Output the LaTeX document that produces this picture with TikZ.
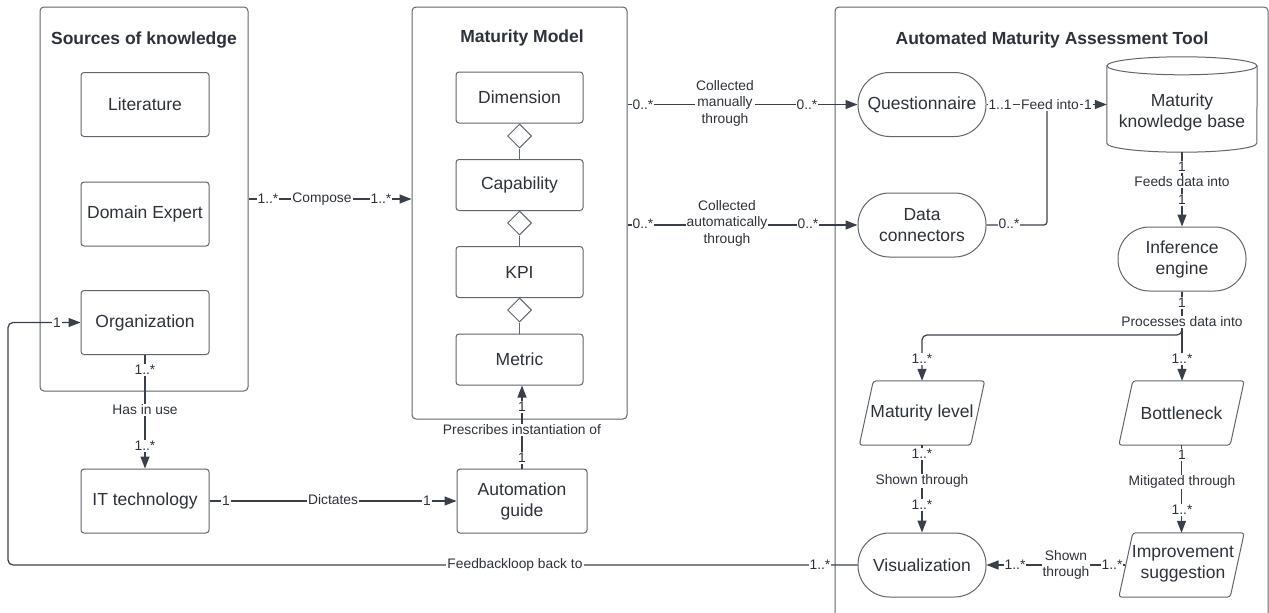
\documentclass[tikz,border=0pt]{standalone}
\usepackage{fontspec}
\setmainfont{Liberation Sans}
\usetikzlibrary{arrows.meta,shapes.geometric}
\definecolor{ln}{RGB}{58,64,74}
\definecolor{bx}{RGB}{96,102,112}
\definecolor{txt}{RGB}{45,50,58}
\newcommand\bigf{\fontsize{17.5}{21}\selectfont}
\newcommand\smallf{\fontsize{13.8}{16.5}\selectfont}
\tikzset{
  box/.style={draw=bx, line width=1pt, rounded corners=3pt, minimum width=128pt, minimum height=64pt, inner sep=0pt, text=txt, font=\bigf, align=center},
  stad/.style={box, rounded corners=31.5pt},
  para/.style={minimum width=125pt, minimum height=64pt, inner sep=0pt, text=txt, font=\bigf, align=center},
  pshape/.style={draw=bx, line width=1pt, rounded corners=3pt},
  ptext/.style={text=txt, font=\bigf, align=center, inner sep=0pt},
  cont/.style={draw=bx, line width=1pt, rounded corners=4pt, inner sep=0pt},
  ttl/.style={font=\bigf\bfseries, text=txt},
  conn/.style={draw=ln, line width=1.2pt, -{Triangle[length=12pt,width=9pt]}},
  plain/.style={draw=ln, line width=1.2pt},
  agg/.style={draw=bx, line width=1pt},
  dia/.style={diamond, draw=bx, line width=1pt, minimum width=24pt, minimum height=24pt, inner sep=0pt, fill=white},
  lbl/.style={font=\smallf, text=txt, fill=white, inner sep=1pt, align=center}
}
\begin{document}
\begin{tikzpicture}[x=1pt,y=-1pt]
\useasboundingbox (0,0) rectangle (1269,613);
\clip (0,0) rectangle (1269,613);
\fill[white] (0,0) rectangle (1269,613);

% containers
\node[cont, minimum width=208pt, minimum height=384pt] (src) at (144,199) {};
\node[ttl] (srct) at (144,40) {Sources of knowledge};
\node[cont, minimum width=215pt, minimum height=412pt] (mm) at (519.5,213) {};
\node[ttl] (mmt) at (522,38) {Maturity Model};
\node[cont, minimum width=433pt, minimum height=693pt] (tool) at (1051.5,353.5) {};
\node[ttl] (toolt) at (1052,40) {Automated Maturity Assessment Tool};

% sources
\node[box] (lit) at (145,104.5) {Literature};
\node[box] (dom) at (145,214) {Domain Expert};
\node[box] (org) at (145,322.5) {Organization};
\node[box] (itt) at (145,501) {IT technology};

% maturity model
\node[box, minimum width=127pt, minimum height=51pt] (dim) at (519.5,97.5) {Dimension};
\node[box, minimum width=127pt, minimum height=51pt] (cap) at (519.5,185) {Capability};
\node[box, minimum width=127pt, minimum height=51pt] (kpi) at (519.5,272) {KPI};
\node[box, minimum width=127pt, minimum height=51pt] (met) at (519.5,359.5) {Metric};
\node[dia] (d1) at (519.5,136) {};
\node[dia] (d2) at (519.5,223) {};
\node[dia] (d3) at (519.5,310) {};
\draw[agg] (d1.south) -- (cap.north);
\draw[agg] (d2.south) -- (kpi.north);
\draw[agg] (d3.south) -- (met.north);
\node[box, minimum width=130pt] (ag) at (522,501) {Automation\\guide};

% tool
\node[stad] (q) at (922,104.5) {Questionnaire};
\node[stad] (dc) at (922,225) {Data\\connectors};
\node[minimum width=150pt, minimum height=95pt, inner sep=0pt] (kb) at (1182,104.5) {};
\draw[draw=bx, line width=1pt] ([yshift=-9pt]kb.north west) -- ([yshift=9pt]kb.south west)
  arc[start angle=180, end angle=360, x radius=75pt, y radius=9pt] -- ([yshift=-9pt]kb.north east);
\draw[draw=bx, line width=1pt] ([yshift=-9pt]kb.north) ellipse [x radius=75pt, y radius=9pt];
\node[ptext] (kbt) at (1182,112) {Maturity\\knowledge base};
\node[stad] (ie) at (1182,259) {Inference\\engine};

\node[para] (ml) at (922,413) {Maturity level};
\draw[pshape] (ml.south west) -- ([xshift=14pt]ml.north west) -- (ml.north east) -- ([xshift=-14pt]ml.south east) -- cycle;
\node[para] (bn) at (1181.5,413) {Bottleneck};
\draw[pshape] (bn.south west) -- ([xshift=14pt]bn.north west) -- (bn.north east) -- ([xshift=-14pt]bn.south east) -- cycle;
\node[stad] (vis) at (922,565) {Visualization};
\node[para] (imp) at (1181.5,565) {};
\draw[pshape] (imp.south west) -- ([xshift=14pt]imp.north west) -- (imp.north east) -- ([xshift=-14pt]imp.south east) -- cycle;
\node[ptext] (impt) at (1183,564) {Improvement\\suggestion};

% connectors
\draw[conn] (src.east) -- (src.east -| mm.west);
\draw[conn] (q.west -| mm.east) -- (q.west);
\draw[conn] (dc.west -| mm.east) -- (dc.west);
\draw[conn] (q.east) -- (kb.west);
\coordinate (jn) at (1047,104.5);
\draw[plain, rounded corners=3pt] (dc.east) -| (jn);
\draw[conn] (kb.south) -- (ie.north);
\coordinate (br) at (1182,335);
\draw[conn] (ie.south) -- (ie.south |- bn.north);
\draw[conn, rounded corners=5pt] (ie.south) -- (br) -| (ml.north);
\draw[conn] (org.south) -- (itt.north);
\draw[conn] (itt.east) -- (ag.west);
\draw[conn] (ag.north) -- (ag.north |- met.south);
\coordinate (fb) at (8,565);
\draw[conn, rounded corners=5pt] (vis.west) -- (fb) |- (org.west);
\draw[conn] (ml.south) -- (vis.north);
\draw[conn] (bn.south) -- (imp.north);
\draw[conn] ([xshift=6pt]imp.west) -- (vis.east);

% labels
\node[lbl] at (268,199) {1..*};
\node[lbl] at (322,199) {Compose};
\node[lbl] at (381,199) {1..*};

\node[lbl] at (643,104.5) {0..*};
\node[lbl] at (725,103) {Collected\\manually\\through};
\node[lbl] at (807,104.5) {0..*};

\node[lbl] at (643,224) {0..*};
\node[lbl] at (727,223) {Collected\\automatically\\through};
\node[lbl] at (808,224) {0..*};

\node[lbl] at (1000,104.5) {1..1};
\node[lbl] at (1050,104.5) {Feed into};
\node[lbl] at (1088,104.5) {1};
\node[lbl] at (1009,224) {0..*};

\node[lbl] at (1182,167) {1};
\node[lbl] at (1182,182) {Feeds data into};
\node[lbl] at (1182,200) {1};

\node[lbl] at (1182,303) {1};
\node[lbl] at (1182,322) {Processes data into};
\node[lbl] at (922,359) {1..*};
\node[lbl] at (1182,359) {1..*};

\node[lbl] at (145,370) {1..*};
\node[lbl] at (145,410) {Has in use};
\node[lbl] at (145,446) {1..*};

\node[lbl] at (226,501) {1};
\node[lbl] at (333,500) {Dictates};
\node[lbl] at (427,501) {1};

\node[lbl] at (522,407) {1};
\node[lbl] at (522,430) {Prescribes instantiation of};
\node[lbl] at (522,458) {1};

\node[lbl] at (57,322.5) {1};
\node[lbl] at (515,565) {Feedbackloop back to};
\node[lbl] at (820,565) {1..*};

\node[lbl] at (922,454) {1..*};
\node[lbl] at (922,481) {Shown through};
\node[lbl] at (922,505) {1..*};

\node[lbl] at (1182,455) {1};
\node[lbl] at (1182,482) {Mitigated through};
\node[lbl] at (1182,510) {1..*};

\node[lbl] at (1112,565) {1..*};
\node[lbl] at (1066,565) {Shown\\through};
\node[lbl] at (1015,565) {1..*};
\end{tikzpicture}
\end{document}
